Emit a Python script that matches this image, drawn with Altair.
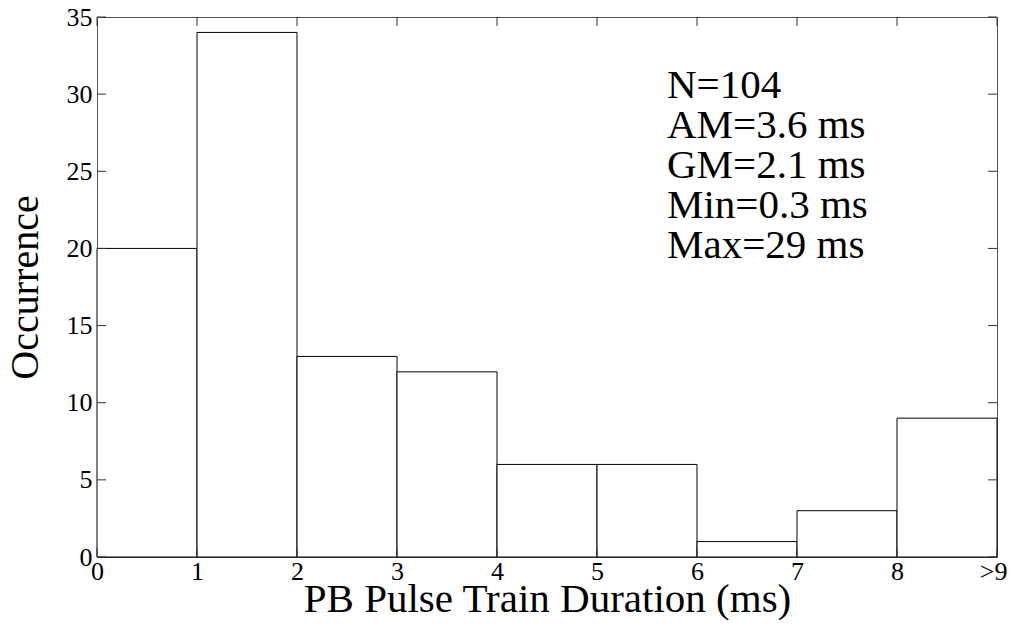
import altair as alt
import pandas as pd

# Histogram data
bin_start = [0, 1, 2, 3, 4, 5, 6, 7, 8]
bin_end = [1, 2, 3, 4, 5, 6, 7, 8, 9]
counts = [20, 34, 13, 12, 6, 6, 1, 3, 9]

x_ticks = [0, 1, 2, 3, 4, 5, 6, 7, 8, 9]
x_tick_labels = ["0", "1", "2", "3", "4", "5", "6", "7", "8", ">9"]
y_ticks = [0, 5, 10, 15, 20, 25, 30, 35]

stats_lines = ["N=104", "AM=3.6 ms", "GM=2.1 ms", "Min=0.3 ms", "Max=29 ms"]

x_title = "PB Pulse Train Duration (ms)"
y_title = "Occurrence"

FONT = "'Liberation Serif', 'Times New Roman', Times, serif"
W, H = 900, 540
TICK = 9

bars_df = pd.DataFrame({"start": bin_start, "end": bin_end, "count": counts})
xt_df = pd.DataFrame({"v": x_ticks})
yt_df = pd.DataFrame({"v": y_ticks})
note_df = pd.DataFrame({"k": [0]})

label_map = "{" + ",".join(f"'{v}':'{l}'" for v, l in zip(x_ticks, x_tick_labels)) + "}"

xscale = alt.Scale(domain=[0, 9], nice=False, zero=False)
yscale = alt.Scale(domain=[0, 35], nice=False)

bars = alt.Chart(bars_df).mark_rect(
    fill="white", stroke="black", strokeWidth=1
).encode(
    x=alt.X("start:Q", scale=xscale,
            axis=alt.Axis(values=x_ticks, labelExpr=f"{label_map}[datum.value]",
                          title=x_title, grid=False, domain=False, ticks=False,
                          labelFont=FONT, labelFontSize=26, labelColor="black",
                          labelPadding=1, labelFlush=False, labelOverlap=False,
                          labelAlign={"condition": {"test": "datum.value == 9",
                                                    "value": "right"},
                                      "value": "center"},
                          labelOffset={"condition": {"test": "datum.value == 9",
                                                     "value": 10},
                                       "value": 0},
                          titleFont=FONT, titleFontSize=41, titleFontWeight="normal",
                          titleColor="black", titleBaseline="alphabetic",
                          titleY=54, titleX=W / 2)),
    x2="end:Q",
    y=alt.Y("count:Q", scale=yscale,
            axis=alt.Axis(values=y_ticks, title=y_title, grid=False, domain=False,
                          ticks=False, labelFont=FONT, labelFontSize=26,
                          labelColor="black", labelPadding=5, labelFlush=False,
                          labelOverlap=False,
                          titleFont=FONT, titleFontSize=40, titleFontWeight="normal",
                          titleColor="black", titleAngle=270,
                          titleBaseline="alphabetic", titleX=-60, titleY=H / 2)),
    y2=alt.datum(0),
)

tick_color = "#333333"
xt_bottom = alt.Chart(xt_df).mark_rule(color=tick_color, strokeWidth=1).encode(
    x=alt.X("v:Q", scale=xscale), y=alt.value(H), y2=alt.value(H - TICK))
xt_top = alt.Chart(xt_df).mark_rule(color=tick_color, strokeWidth=1).encode(
    x=alt.X("v:Q", scale=xscale), y=alt.value(0), y2=alt.value(TICK))
yt_left = alt.Chart(yt_df).mark_rule(color=tick_color, strokeWidth=1).encode(
    y=alt.Y("v:Q", scale=yscale), x=alt.value(0), x2=alt.value(TICK))
yt_right = alt.Chart(yt_df).mark_rule(color=tick_color, strokeWidth=1).encode(
    y=alt.Y("v:Q", scale=yscale), x=alt.value(W), x2=alt.value(W - TICK))

note = alt.Chart(note_df).mark_text(
    align="left", baseline="alphabetic", font=FONT, fontSize=41,
    lineHeight=40, color="black"
).encode(x=alt.value(570), y=alt.value(81), text=alt.value(stats_lines))

chart = alt.layer(bars, xt_bottom, xt_top, yt_left, yt_right, note).properties(
    width=W, height=H,
    autosize=alt.AutoSizeParams(type="none"),
    padding={"left": 89, "top": 9, "right": 11, "bottom": 63},
    background="white",
).configure_view(stroke="#555555", strokeWidth=1)

chart.save("out.html", embed_options={"renderer": "svg", "actions": False})
